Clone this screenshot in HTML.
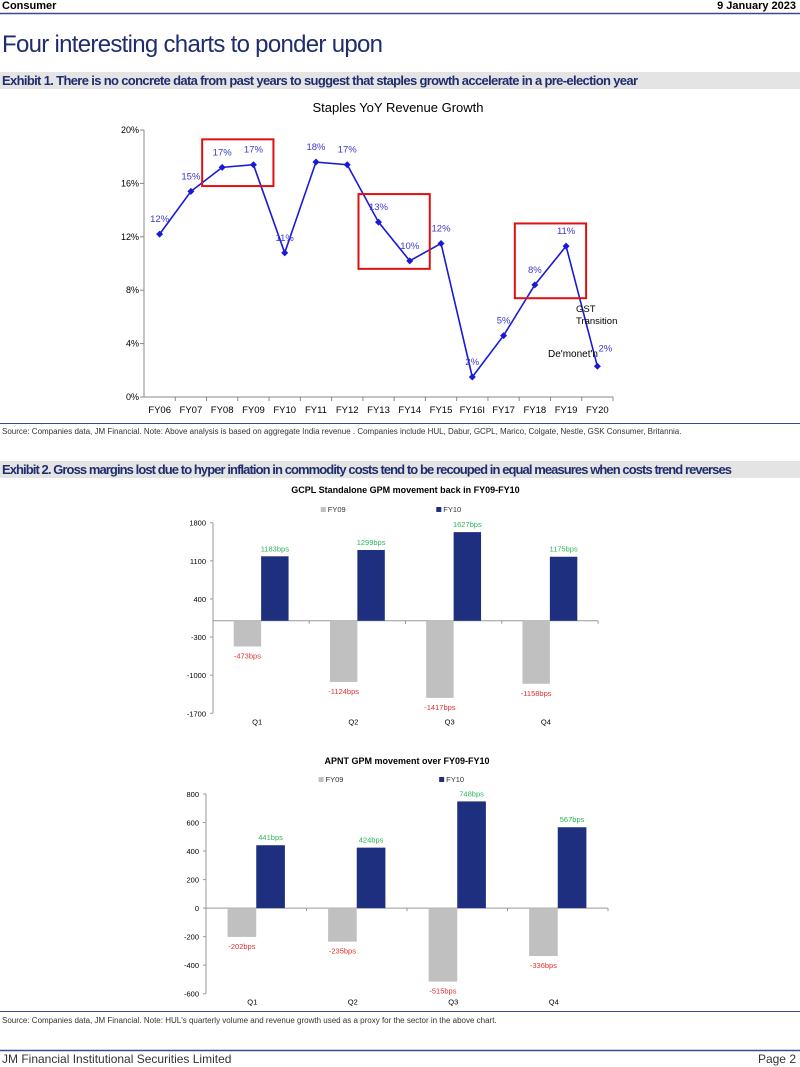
<!DOCTYPE html>
<html><head><meta charset="utf-8"><style>
body{margin:0;width:800px;height:1067px;background:#fff;overflow:hidden;font-family:"Liberation Sans",sans-serif}
svg{display:block}
</style></head><body>
<svg id="s" width="800" height="1067" xmlns="http://www.w3.org/2000/svg" font-family="Liberation Sans, sans-serif">
<text x="2" y="9" font-size="11" font-weight="bold" fill="#000">Consumer</text>
<text x="796" y="9" font-size="11" font-weight="bold" fill="#000" text-anchor="end">9 January 2023</text>
<line x1="0" y1="13.5" x2="800" y2="13.5" stroke="#3b4a8c" stroke-width="1.5"/>
<text x="2" y="52" font-size="24" fill="#1f2d6e" textLength="381">Four interesting charts to ponder upon</text>
<rect x="0" y="72" width="800" height="17" fill="#e4e4e4"/>
<text x="2" y="85" font-size="13" font-weight="bold" fill="#1f2d6e" textLength="636">Exhibit 1. There is no concrete data from past years to suggest that staples growth accelerate in a pre-election year</text>
<text x="398" y="112" font-size="13" text-anchor="middle" fill="#000">Staples YoY Revenue Growth</text>
<g id="c1"></g>
<line x1="0" y1="423.5" x2="800" y2="423.5" stroke="#3b4a8c"/>
<text x="2" y="434" font-size="8" fill="#333">Source: Companies data, JM Financial. Note: Above analysis is based on aggregate India revenue . Companies include HUL, Dabur, GCPL, Marico, Colgate, Nestle, GSK Consumer, Britannia.</text>
<rect x="0" y="461" width="800" height="17" fill="#e4e4e4"/>
<text x="2" y="474" font-size="13" font-weight="bold" fill="#1f2d6e" textLength="730">Exhibit 2. Gross margins lost due to hyper inflation in commodity costs tend to be recouped in equal measures when costs trend reverses</text>
<g id="c2"></g>
<g id="c3"></g>
<line x1="0" y1="1011.5" x2="800" y2="1011.5" stroke="#3b4a8c"/>
<text x="2" y="1023" font-size="8" fill="#333">Source: Companies data, JM Financial. Note: HUL's quarterly volume and revenue growth used as a proxy for the sector in the above chart.</text>
<line x1="0" y1="1050.5" x2="800" y2="1050.5" stroke="#3b4a8c" stroke-width="1.5"/>
<text x="2" y="1063" font-size="12" fill="#333">JM Financial Institutional Securities Limited</text>
<text x="796" y="1063" font-size="12" fill="#333" text-anchor="end">Page 2</text>
</svg>
<script>
const years=["FY06","FY07","FY08","FY09","FY10","FY11","FY12","FY13","FY14","FY15","FY16I","FY17","FY18","FY19","FY20"];
const growth=[12.2,15.4,17.2,17.4,10.8,17.6,17.4,13.1,10.2,11.5,1.5,4.6,8.4,11.3,2.3];
const growthLabels=["12%","15%","17%","17%","11%","18%","17%","13%","10%","12%","2%","5%","8%","11%","2%"];
const yTicks1=[0,4,8,12,16,20];
const quarters=["Q1","Q2","Q3","Q4"];
const gcplFY09=[-473,-1124,-1417,-1158];
const gcplFY10=[1183,1299,1627,1175];
const gcplTicks=[1800,1100,400,-300,-1000,-1700];
const apntFY09=[-202,-235,-515,-336];
const apntFY10=[441,424,748,567];
const apntTicks=[800,600,400,200,0,-200,-400,-600];
const NS="http://www.w3.org/2000/svg";
function mk(p,t,a,txt){const e=document.createElementNS(NS,t);for(const k in a)e.setAttribute(k,a[k]);if(txt!=null)e.textContent=txt;p.appendChild(e);return e;}
(function(){
const g=document.getElementById('c1');
const x0=144,x1=613,yTop=130,yBot=397;
const step=(x1-x0)/years.length;
const X=i=>x0+step*(i+0.5);
const Y=v=>yBot-(v-0)/(20-0)*(yBot-yTop);
let e=mk(g,'line',{x1:x0,y1:yTop,x2:x0,y2:yBot,stroke:'#888'});

e=mk(g,'line',{x1:x0,y1:yBot,x2:x1,y2:yBot,stroke:'#888'});

yTicks1.forEach(t=>{mk(g,'line',{x1:x0-4,y1:Y(t),x2:x0,y2:Y(t),stroke:'#888'});
const l=mk(g,'text',{x:x0-5,y:Y(t)+3,'font-size':9,'text-anchor':'end',fill:'#000'},t+'%');
});
years.forEach((c,i)=>{mk(g,'line',{x1:x0+step*(i+1),y1:yBot,x2:x0+step*(i+1),y2:yBot+4,stroke:'#888'});
const l=mk(g,'text',{x:X(i),y:yBot+16,'font-size':9.5,'text-anchor':'middle',fill:'#000'},c);
});
const ln=mk(g,'polyline',{points:growth.map((v,i)=>X(i)+','+Y(v)).join(' '),fill:'none',stroke:'#1a1ad6','stroke-width':1.6});

growth.forEach((v,i)=>{const p=mk(g,'path',{d:`M${X(i)} ${Y(v)-3.5}L${X(i)+3.5} ${Y(v)}L${X(i)} ${Y(v)+3.5}L${X(i)-3.5} ${Y(v)}Z`,fill:'#1a1ad6'});

const l=mk(g,'text',{x:X(i)+ (i==14?8:0),y:Y(v)-(i==14?15:12),'font-size':9.5,'text-anchor':'middle',fill:'#3a3ad0'},growthLabels[i]);
});
[[2,3,15.8,19.3],[7,8,9.6,15.2],[12,13,7.4,13.0]].forEach(b=>{const r=mk(g,'rect',{x:X(b[0])-20,y:Y(b[3]),width:X(b[1])-X(b[0])+40,height:Y(b[2])-Y(b[3]),fill:'none',stroke:'#e01010','stroke-width':2});
});
let a=mk(g,'text',{x:576,y:312,'font-size':9.5,fill:'#000'},'GST');
a=mk(g,'text',{x:576,y:324,'font-size':9.5,fill:'#000'},'Transition');
a=mk(g,'text',{x:548,y:357,'font-size':10,fill:'#000'},"De'monet'n");
})();
function bar(id,title,titleY,ax,aw,yTop,yBot,vmax,vmin,ticks,s1,s2,legY){
const g=document.getElementById(id);
const Y=v=>yTop+(vmax-v)/(vmax-vmin)*(yBot-yTop);
const step=aw/quarters.length,bw=step*0.285;
let t=mk(g,'text',{x:ax+aw/2,y:titleY,'font-size':9,'font-weight':'bold','text-anchor':'middle',fill:'#000'},title);

[[ax+aw*0.28,'#c0c0c0','FY09'],[ax+aw*0.58,'#1f2f7f','FY10']].forEach(l=>{
const r=mk(g,'rect',{x:l[0],y:legY-5,width:5,height:5,fill:l[1]});
const tx=mk(g,'text',{x:l[0]+7,y:legY,'font-size':7.5,fill:'#333'},l[2]);});
let e=mk(g,'line',{x1:ax,y1:yTop,x2:ax,y2:yBot,stroke:'#999'});
e=mk(g,'line',{x1:ax,y1:Y(0),x2:ax+aw,y2:Y(0),stroke:'#999'});
ticks.forEach(v=>{mk(g,'line',{x1:ax-3,y1:Y(v),x2:ax,y2:Y(v),stroke:'#999'});
const l=mk(g,'text',{x:ax-7,y:Y(v)+3,'font-size':7.5,'text-anchor':'end',fill:'#000'},v);});
quarters.forEach((q,i)=>{const cx=ax+step*(i+0.5);
mk(g,'line',{x1:ax+step*(i+1),y1:Y(0),x2:ax+step*(i+1),y2:Y(0)+3,stroke:'#999'});
const l=mk(g,'text',{x:cx-4,y:yBot+11,'font-size':7.5,'text-anchor':'middle',fill:'#000'},q);
const a=s1[i],b=s2[i];
const r1=mk(g,'rect',{x:cx-bw,y:Y(0),width:bw,height:Y(a)-Y(0),fill:'#c0c0c0'});
const r2=mk(g,'rect',{x:cx,y:Y(b),width:bw,height:Y(0)-Y(b),fill:'#1f2f7f'});
const l1=mk(g,'text',{x:cx-bw/2,y:Y(a)+12,'font-size':7.5,'text-anchor':'middle',fill:'#e03030'},a+'bps');
const l2=mk(g,'text',{x:cx+bw/2,y:Y(b)-5,'font-size':7.5,'text-anchor':'middle',fill:'#2cb55a'},b+'bps');});
}
bar('c2','GCPL Standalone GPM movement back in FY09-FY10',493,213,385,522.7,713.3,1800,-1700,gcplTicks,gcplFY09,gcplFY10,512);
bar('c3','APNT GPM movement over FY09-FY10',764,206,402,794,993.7,800,-600,apntTicks,apntFY09,apntFY10,782);
</script>
</body></html>
